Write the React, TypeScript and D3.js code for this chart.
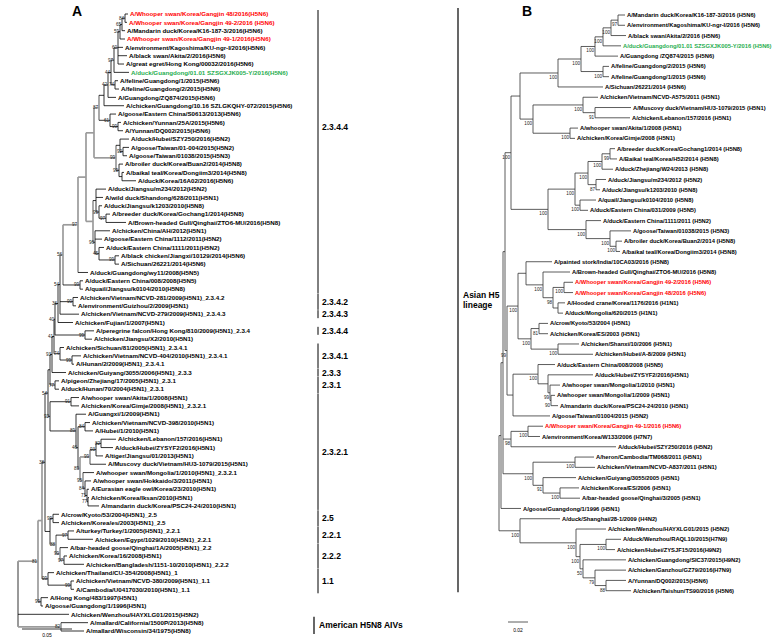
import React from "react";
import * as d3 from "d3";

// ---------- Panel A data ----------
const leavesA = [
  "A/Whooper swan/Korea/Gangjin 48/2016(H5N6)",
  "A/Whooper swan/Korea/Gangjin 49-2/2016 (H5N6)",
  "A/Mandarin duck/Korea/K16-187-3/2016(H5N6)",
  "A/Whooper swan/Korea/Gangjin 49-1/2016(H5N6)",
  "A/environment/Kagoshima/KU-ngr-I/2016(H5N6)",
  "A/black swan/Akita/2/2016(H5N6)",
  "A/great egret/Hong Kong/00032/2016(H5N6)",
  "A/duck/Guangdong/01.01 SZSGXJK005-Y/2016(H5N6)",
  "A/feline/Guangdong/1/2015(H5N6)",
  "A/feline/Guangdong/2/2015(H5N6)",
  "A/Guangdong/ZQ874/2015(H5N6)",
  "A/chicken/Guangdong/10.16 SZLGKQHY-072/2015(H5N6)",
  "A/goose/Eastern China/S0613/2013(H5N6)",
  "A/chicken/Yunnan/25A/2015(H5N6)",
  "A/Yunnan/DQ002/2015(H5N6)",
  "A/duck/Hubei/SZY250/2016(H5N2)",
  "A/goose/Taiwan/01-004/2015(H5N2)",
  "A/goose/Taiwan/01038/2015(H5N3)",
  "A/broiler duck/Korea/Buan2/2014(H5N8)",
  "A/baikal teal/Korea/Dongiim3/2014(H5N8)",
  "A/duck/Korea/16A02/2016(H5N6)",
  "A/duck/Jiangsu/m234/2012(H5N2)",
  "A/wild duck/Shandong/628/2011(H5N1)",
  "A/duck/Jiangsu/k1203/2010(H5N8)",
  "A/breeder duck/Korea/Gochang1/2014(H5N8)",
  "A/Brown-headed Gull/Qinghai/ZTO6-MU/2016(H5N8)",
  "A/chicken/China/AH/2012(H5N1)",
  "A/goose/Eastern China/1112/2011(H5N2)",
  "A/duck/Eastern China/1111/2011(H5N2)",
  "A/black chicken/Jiangxi/10129/2014(H5N6)",
  "A/Sichuan/26221/2014(H5N6)",
  "A/duck/Guangdong/wy11/2008(H5N5)",
  "A/duck/Eastern China/008/2008(H5N5)",
  "A/quail/Jiangsu/k0104/2010(H5N8)",
  "A/chicken/Vietnam/NCVD-281/2009(H5N1)_2.3.4.2",
  "A/environment/Guizhou/2/2009(H5N1)",
  "A/chicken/Vietnam/NCVD-279/2009(H5N1)_2.3.4.3",
  "A/chicken/Fujian/1/2007(H5N1)",
  "A/peregrine falcon/Hong Kong/810/2009(H5N1)_2.3.4",
  "A/chicken/Jiangsu/X2/2010(H5N1)",
  "A/chicken/Sichuan/81/2005(H5N1)_2.3.4.1",
  "A/chicken/Vietnam/NCVD-404/2010(H5N1)_2.3.4.1",
  "A/Hunan/2/2009(H5N1)_2.3.4.1",
  "A/chicken/Guiyang/3055/2006(H5N1)_2.3.3",
  "A/pigeon/Zhejiang/17/2005(H5N1)_2.3.1",
  "A/duck/Hunan/70/2004(H5N1)_2.3.1",
  "A/whooper swan/Akita/1/2008(H5N1)",
  "A/chicken/Korea/Gimje/2008(H5N1)_2.3.2.1",
  "A/Guangxi/1/2009(H5N1)",
  "A/chicken/Vietnam/NCVD-398/2010(H5N1)",
  "A/Hubei/1/2010(H5N1)",
  "A/chicken/Lebanon/157/2016(H5N1)",
  "A/duck/Hubei/ZYSYF2/2016(H5N1)",
  "A/tiger/Jiangsu/01/2013(H5N1)",
  "A/Muscovy duck/Vietnam/HU3-1079/2015(H5N1)",
  "A/whooper swan/Mongolia/1/2010(H5N1)_2.3.2.1",
  "A/whooper swan/Hokkaido/3/2011(H5N1)",
  "A/Eurasian eagle owl/Korea/23/2010(H5N1)",
  "A/chicken/Korea/Iksan/2010(H5N1)",
  "A/mandarin duck/Korea/PSC24-24/2010(H5N1)",
  "A/crow/Kyoto/53/2004(H5N1)_2.5",
  "A/chicken/Korea/es/2003(H5N1)_2.5",
  "A/turkey/Turkey/1/2005(H5N1)_2.2.1",
  "A/chicken/Egypt/1029/2010(H5N1)_2.2.1",
  "A/bar-headed goose/Qinghai/1A/2005(H5N1)_2.2",
  "A/chicken/Korea/16/2008(H5N1)",
  "A/chicken/Bangladesh/1151-10/2010(H5N1)_2.2.2",
  "A/chicken/Thailand/CU-354/2008(H5N1)_1",
  "A/chicken/Vietnam/NCVD-380/2009(H5N1)_1.1",
  "A/Cambodia/U0417030/2010(H5N1)_1.1",
  "A/Hong Kong/483/1997(H5N1)",
  "A/goose/Guangdong/1/1996(H5N1)",
  "A/chicken/Wenzhou/HAYXLG01/2015(H5N2)",
  "A/mallard/California/1500P/2013(H5N8)",
  "A/mallard/Wisconsin/34/1975(H5N8)",
];
const redLeavesA = [0, 1, 3];
const greenLeavesA = [7];

// Newick topology, branch lengths in 0.001 substitutions/site
const subtreeA_T1 =
  "((((((((L0:3,L1:2)N84:3,L2:3)N65:2,L3:5)N59:2,L4:5,L5:9,L6:6)N60:4,L7:15)N97:3,(L8:3,L9:4)Fel:4)T1d:3,L10:8)T1c:4,L11:20)T1a:5,(L12:6,(L13:3,L14:5)Yun:8)T1b:11)T1:5";
const subtreeA_T2 =
  "((L15:9,(L16:6,L17:4)T2b:3)T2a:4,(L18:4,(L19:2,L20:14)T2d:3)T2c:3)T2:22";
const subtreeA_Mid =
  "((L21:10,L22:7,(L23:3,(L24:4,L25:20)G:7)K:3)MA:3,(L26:15,L27:7,(L28:5,(L29:4,L30:4)EC4:16)EC2:4)EC:2)Mid:7";
const subtreeA_2344 = `(((((${subtreeA_T1},${subtreeA_T2})T:8,${subtreeA_Mid})C2344c:8,L31:10)C2344b:15,(L32:3,L33:3)ECq:17)C2344:3`;
const subtreeA_234 = `((((${subtreeA_2344},(L34:5,L35:3)C2342:13,L36:19)C234c:2,L37:15)C234b:3,(L38:9,L39:7)Per:30)C234a:1,(L40:4,(L41:9,L42:2)C2341b:12)C2341:6)C234main:2`;
const subtreeA_23 = `((${subtreeA_234},L43:14)C234plus:2,(L44:4,L45:4)C231:5)C23:2`;
const subtreeA_2321 =
  "((L46:8,L47:8)AkG:21,(L48:10,((L49:5,L50:8)P398:7,((((L51:15,L52:12)LZ:5,L53:7)C232f:6,L54:16)C232e:10,(L55:11,(L56:6,(L57:2,(L58:1,L59:11)H3:1)H2:2)H1:2)C232g:3)C232d:2)C232c:2)C232b:26)C232:2";
const subtreeA_22 =
  "((L60:6,L61:6)C25:3,((L62:6,L63:25)C221:12,(L64:8,(L65:3,L66:20)C222:4)C22x:4)C22:6)C2522:5";
const newickA = `((((((${subtreeA_23},${subtreeA_2321})M3:3,${subtreeA_22})M2:3,(L67:6,(L68:3,L69:3)C11:23)C1:6)M1:4,(L70:7,L71:2)GsGD:3)AS:20,L72:51,(L73:27,L74:23)AM:43)R;`;

const bootstrapA: [string, number][] = [
  ["N84", 84], ["N65", 65], ["N59", 59], ["N60", 60], ["N97", 97], ["T1d", 44], ["Fel", 74],
  ["T1c", 42], ["T1b", 61], ["Yun", 99], ["T1", 87], ["T2", 99], ["T2b", 92], ["T2c", 99],
  ["K", 99], ["G", 97], ["EC", 96], ["EC2", 45], ["EC4", 99], ["C2344b", 97], ["ECq", 99],
  ["C2344", 56], ["C2342", 99], ["C234c", 54], ["C234b", 36], ["C234a", 40], ["Per", 99],
  ["C234main", 41], ["C2341", 74], ["C2341b", 99], ["C234plus", 93], ["C231", 77],
  ["C232", 92], ["AkG", 91], ["C232b", 89], ["C232c", 46], ["P398", 84], ["C232d", 89],
  ["C232e", 99], ["C232f", 93], ["LZ", 82], ["C232g", 95], ["H1", 84], ["H2", 71], ["H3", 77],
  ["M3", 54], ["M2", 38], ["C25", 99], ["C22", 88], ["C221", 97], ["C22x", 99], ["C222", 97],
  ["C1", 99], ["C11", 99], ["AS", 81], ["GsGD", 99], ["AM", 82],
];
const grayNodesA = ["AS", "AM", "M1", "C2344", "C2344b", "C2344c", "T", "T1", "T2", "Mid", "C232d", "C232e", "C232g", "C22", "C22x"];

const cladesA: { label: string; first: number; last: number; labelAt?: number }[] = [
  { label: "2.3.4.4", first: 0, last: 33, labelAt: 13.5 },
  { label: "2.3.4.2", first: 34, last: 35 },
  { label: "2.3.4.3", first: 36, last: 36 },
  { label: "2.3.4.4", first: 38, last: 38 },
  { label: "2.3.4.1", first: 40, last: 42 },
  { label: "2.3.3", first: 43, last: 43 },
  { label: "2.3.1", first: 44, last: 45 },
  { label: "2.3.2.1", first: 46, last: 59 },
  { label: "2.5", first: 60, last: 61 },
  { label: "2.2.1", first: 62, last: 63 },
  { label: "2.2.2", first: 64, last: 66 },
  { label: "1.1", first: 67, last: 69 },
];
const lineagesA: { label: string[]; first: number; last: number }[] = [
  { label: ["Asian H5", "lineage"], first: 0, last: 69 },
  { label: ["American H5N8 AIVs"], first: 73, last: 74 },
];

// ---------- Panel B data ----------
const leavesB = [
  "A/Mandarin duck/Korea/K16-187-3/2016 (H5N6)",
  "A/environment/Kagoshima/KU-ngr-I/2016 (H5N6)",
  "A/black swan/Akita/2/2016 (H5N6)",
  "A/duck/Guangdong/01.01 SZSGXJK005-Y/2016 (H5N6)",
  "A/Guangdong /ZQ874/2015 (H5N6)",
  "A/feline/Guangdong/2/2015 (H5N6)",
  "A/feline/Guangdong/1/2015 (H5N6)",
  "A/Sichuan/26221/2014 (H5N6)",
  "A/chicken/Vietnam/NCVD-A575/2011 (H5N1)",
  "A/Muscovy duck/Vietnam/HU3-1079/2015 (H5N1)",
  "A/chicken/Lebanon/157/2016 (H5N1)",
  "A/whooper swan/Akita/1/2008 (H5N1)",
  "A/chicken/Korea/Gimje/2008 (H5N1)",
  "A/breeder duck/Korea/Gochang1/2014 (H5N8)",
  "A/Baikal teal/Korea/H52/2014 (H5N8)",
  "A/duck/Zhejiang/W24/2013 (H5N8)",
  "A/duck/Jiangsu/m234/2012 (H5N2)",
  "A/duck/Jiangsu/k1203/2010 (H5N8)",
  "A/quail/Jiangsu/k0104/2010 (H5N8)",
  "A/duck/Eastern China/031/2009 (H5N5)",
  "A/duck/Eastern China/1111/2011 (H5N2)",
  "A/goose/Taiwan/01038/2015 (H5N3)",
  "A/broiler duck/Korea/Buan2/2014 (H5N8)",
  "A/baikal teal/Korea/Dongiim3/2014 (H5N8)",
  "A/painted stork/India/10CA03/2016 (H5N8)",
  "A/Brown-headed Gull/Qinghai/ZTO6-MU/2016 (H5N8)",
  "A/Whooper swan/Korea/Gangjin 49-2/2016 (H5N6)",
  "A/Whooper swan/Korea/Gangjin 48/2016 (H5N6)",
  "A/Hooded crane/Korea/1176/2016 (H1N1)",
  "A/duck/Mongolia/620/2015 (H1N1)",
  "A/crow/Kyoto/53/2004 (H5N1)",
  "A/chicken/Korea/ES/2003 (H5N1)",
  "A/chicken/Shanxi/10/2006 (H5N1)",
  "A/chicken/Hubei/A-8/2009 (H5N1)",
  "A/duck/Eastern China/008/2008 (H5N5)",
  "A/duck/Hubei/ZYSYF2/2016(H5N1)",
  "A/whooper swan/Mongolia/1/2010 (H5N1)",
  "A/whooper swan/Mongolia/1/2009 (H5N1)",
  "A/mandarin duck/Korea/PSC24-24/2010 (H5N1)",
  "A/goose/Taiwan/01004/2015 (H5N2)",
  "A/Whooper swan/Korea/Gangjin 49-1/2016 (H5N6)",
  "A/environment/Korea/W133/2006 (H7N7)",
  "A/duck/Hubei/SZY250/2016 (H5N2)",
  "A/heron/Cambodia/TM068/2011 (H5N1)",
  "A/chicken/Vietnam/NCVD-A837/2011 (H5N1)",
  "A/chicken/Guiyang/3055/2005 (H5N1)",
  "A/chicken/Korea/ES/2006 (H5N1)",
  "A/bar-headed goose/Qinghai/3/2005 (H5N1)",
  "A/goose/Guangdong/1/1996 (H5N1)",
  "A/duck/Shanghai/28-1/2009 (H4N2)",
  "A/chicken/Wenzhou/HAYXLG01/2015 (H5N2)",
  "A/duck/Wenzhou/RAQL10/2015(H7N9)",
  "A/chicken/Hubei/ZYSJF15/2016(H9N2)",
  "A/chicken/Guangdong/SIC37/2015(H9N2)",
  "A/chicken/Ganzhou/GZ79/2016(H7N9)",
  "A/Yunnan/DQ002/2015(H5N6)",
  "A/chicken/Taishun/TS90/2016 (H5N6)",
];
const redLeavesB = [26, 27, 40];
const greenLeavesB = [3];

const subtreeB_I6 =
  "((((((L0:7,L1:7)I6e:7,L2:15)I6d:8,L3:18)I6c:8,L4:23)I6b:14,(L5:6,L6:6)Fel:22)I6a:23,L7:45)I6:38";
const subtreeB_I7 = "((L8:15,(L9:36,L10:35)I7b:12)I7a:50,(L11:8,L12:5)I7c:37)I7:13";
const subtreeB_I4b =
  "(((((L13:5,L14:7)I11:8,L15:11)I10:14,(L16:10,L17:4)I12:8)I9:13,(L18:16,L19:8)I13:5)I8:27,(L20:15,(L21:21,(L22:6,L23:4)I16:6)I15:24)I14:38)I4b:37";
const subtreeB_I5a =
  "((L24:26,(L25:27,((L26:9,L27:9)I5e:11,(L28:7,L29:5)I5f:5)I5d:10)I5c:17)I5b:8,((L30:9,L31:9)I5h:8,(L32:21,L33:35)I5i:27)I5g:13)I5a:11";
const subtreeB_I5j = "((L34:17,(L35:45,(L36:10,(L37:4,L38:7)I5n:1)I5m:2)I5l:10)I5k:25,L39:37)I5j:6";
const subtreeB_I2b = "((L40:15,L41:12)I2d:17,L42:105)I2b:8";
const subtreeB_I3 = "((L43:19,L44:20)I3a:42,(L45:33,(L46:19,L47:20)I3c:17)I3b:10)I3:30";
const subtreeB_O1 =
  "(L49:40,(L50:30,((L51:15,L52:9)O4:26,(L53:43,(L54:31,(L55:20,L56:25)O7:11)O6:12)O5:3)O3:4)O2:56)O1:21";
const newickB = `((((((${subtreeB_I6},${subtreeB_I7})I4a:9,${subtreeB_I4b})I4:6,(${subtreeB_I5a},${subtreeB_I5j})I2c:2)I2:2,${subtreeB_I2b},${subtreeB_I3})I1:2,L48:20)I0:2,${subtreeB_O1})R;`;

const bootstrapB: [string, number][] = [
  ["I6e", 97], ["I6d", 100], ["I6c", 100], ["I6b", 100], ["I6a", 100], ["Fel", 100], ["I6", 100],
  ["I7", 100], ["I7a", 100], ["I7b", 91], ["I7c", 100], ["I4", 100], ["I4b", 100], ["I8", 100],
  ["I9", 100], ["I10", 100], ["I11", 99], ["I12", 87], ["I13", 100], ["I14", 100], ["I15", 100],
  ["I16", 100], ["I5a", 100], ["I5c", 100], ["I5d", 98], ["I5e", 100], ["I5h", 81], ["I5g", 100],
  ["I5i", 100], ["I2c", 99], ["I5k", 100], ["I5m", 99], ["I5n", 90], ["I2b", 98], ["I2d", 100],
  ["I3", 100], ["I3a", 100], ["I3b", 91], ["I3c", 100], ["O1", 100], ["O2", 100], ["O3", 100],
  ["O4", 100], ["O5", 50], ["O6", 79], ["O7", 88],
];

const UNIT = 0.001; // branch length unit (substitutions/site)

// ---------- helpers ----------
type TNode = { name: string; length: number; children: TNode[] };

function parseNewick(src: string): TNode {
  const s = src.replace(/\s+/g, "");
  let i = 0;
  function node(): TNode {
    const n: TNode = { name: "", length: 0, children: [] };
    if (s[i] === "(") {
      i++;
      n.children.push(node());
      while (s[i] === ",") {
        i++;
        n.children.push(node());
      }
      i++;
    }
    let name = "";
    while (i < s.length && !",():;".includes(s[i])) name += s[i++];
    n.name = name;
    if (s[i] === ":") {
      i++;
      let num = "";
      while (i < s.length && !",();".includes(s[i])) num += s[i++];
      n.length = parseFloat(num) * UNIT;
    }
    return n;
  }
  return node();
}

type Laid = { name: string; x: number; y: number; px: number | null; kids: Laid[]; leaf: number | null };

function layoutTree(newick: string, nLeaves: number, yTop: number, yBottom: number, x0: number, pxPer005: number) {
  const root = d3.hierarchy(parseNewick(newick), (d) => (d.children.length ? d.children : null));
  const yS = d3.scaleLinear().domain([0, nLeaves - 1]).range([yTop, yBottom]);
  const xS = d3.scaleLinear().domain([0, 0.05]).range([x0, x0 + pxPer005]);
  const dist = new Map<any, number>();
  root.each((n) => dist.set(n, (n.parent ? dist.get(n.parent)! : 0) + (n.parent ? n.data.length : 0)));
  const ys = new Map<any, number>();
  root.eachAfter((n) => {
    if (!n.children) ys.set(n, yS(+n.data.name.slice(1)));
    else ys.set(n, (ys.get(n.children[0])! + ys.get(n.children[n.children.length - 1])!) / 2);
  });
  const byNode = new Map<any, Laid>();
  const nodes: Laid[] = [];
  root.each((n) => {
    const l: Laid = {
      name: n.data.name,
      x: xS(dist.get(n)!),
      y: ys.get(n)!,
      px: n.parent ? xS(dist.get(n.parent)!) : null,
      kids: [],
      leaf: n.children ? null : +n.data.name.slice(1),
    };
    byNode.set(n, l);
    nodes.push(l);
  });
  root.each((n) => {
    if (n.children) byNode.get(n)!.kids = n.children.map((c) => byNode.get(c)!);
  });
  return { nodes, yS, xS };
}

const FONT = "'Liberation Sans', Arial, Helvetica, sans-serif";

function Tree(props: {
  newick: string;
  leaves: string[];
  red: number[];
  green: number[];
  boot: [string, number][];
  gray: string[];
  yTop: number;
  yBottom: number;
  x0: number;
  px005: number;
  leafFont: number;
  bootDy: number;
  stroke: string;
}) {
  const { nodes } = layoutTree(props.newick, props.leaves.length, props.yTop, props.yBottom, props.x0, props.px005);
  const bootMap = new Map(props.boot);
  const graySet = new Set(props.gray);
  const els: React.ReactNode[] = [];
  nodes.forEach((n, i) => {
    const isGray = graySet.has(n.name);
    const st = isGray ? "#9b9b9b" : props.stroke;
    const sw = isGray ? 1.7 : 0.8;
    if (n.px !== null) {
      els.push(<line key={"h" + i} x1={n.px} x2={n.x} y1={n.y} y2={n.y} stroke={st} strokeWidth={sw} />);
    }
    if (n.kids.length) {
      els.push(
        <line key={"v" + i} x1={n.x} x2={n.x} y1={n.kids[0].y} y2={n.kids[n.kids.length - 1].y} stroke={st} strokeWidth={sw} />
      );
      const b = bootMap.get(n.name);
      if (b !== undefined) {
        els.push(
          <text key={"b" + i} x={n.x - 1} y={n.y + props.bootDy} fontSize={4.6} textAnchor="end" fill="#222">
            {b}
          </text>
        );
      }
    } else if (n.leaf !== null) {
      const col = props.red.includes(n.leaf) ? "#ff0000" : props.green.includes(n.leaf) ? "#27ae4f" : "#000";
      els.push(
        <text key={"t" + i} x={n.x + 2} y={n.y + props.leafFont * 0.36} fontSize={props.leafFont} fontWeight="bold" fill={col}>
          {props.leaves[n.leaf]}
        </text>
      );
    }
  });
  return <g fontFamily={FONT}>{els}</g>;
}

export default function App() {
  const yA = d3.scaleLinear().domain([0, leavesA.length - 1]).range([14, 631]);
  return (
    <svg width={779} height={638} style={{ position: "absolute", left: 0, top: 0, background: "#fff" }} fontFamily={FONT}>
      <rect x={0} y={0} width={779} height={638} fill="#fff" />
      {/* Panel A */}
      <text x={72} y={16} fontSize={14} fontWeight="bold">A</text>
      <Tree
        newick={newickA}
        leaves={leavesA}
        red={redLeavesA}
        green={greenLeavesA}
        boot={bootstrapA}
        gray={grayNodesA}
        yTop={14}
        yBottom={631}
        x0={18}
        px005={50}
        leafFont={6.2}
        bootDy={1.5}
        stroke="#000"
      />
      {cladesA.map((c, i) => {
        const y1 = yA(c.first) - 4;
        const y2 = yA(c.last) + 4;
        const ly = c.labelAt !== undefined ? yA(c.labelAt) : (y1 + y2) / 2;
        return (
          <g key={"c" + i}>
            <line x1={318} x2={318} y1={y1} y2={y2} stroke="#000" strokeWidth={1} />
            <text x={322} y={ly + 3} fontSize={8.5} fontWeight="bold">{c.label}</text>
          </g>
        );
      })}
      {lineagesA.map((c, i) => {
        const y1 = yA(c.first) - 6;
        const y2 = yA(c.last) + 3;
        const bx = i === 0 ? 458 : 314;
        return (
          <g key={"l" + i}>
            <line x1={bx} x2={bx} y1={y1} y2={y2} stroke="#000" strokeWidth={1.2} />
            {c.label.map((t, j) => (
              <text key={j} x={bx + 5} y={(y1 + y2) / 2 + 3 + (j - (c.label.length - 1) / 2) * 10} fontSize={8.5} fontWeight="bold">
                {t}
              </text>
            ))}
          </g>
        );
      })}
      {/* scale bar A */}
      <line x1={22} x2={72} y1={629} y2={629} stroke="#000" strokeWidth={0.8} />
      <text x={47} y={637} fontSize={5} textAnchor="middle">0.05</text>

      {/* Panel B */}
      <text x={522} y={16} fontSize={14} fontWeight="bold">B</text>
      <Tree
        newick={newickB}
        leaves={leavesB}
        red={redLeavesB}
        green={greenLeavesB}
        boot={bootstrapB}
        gray={[]}
        yTop={15}
        yBottom={590.7}
        x0={499}
        px005={50}
        leafFont={5.8}
        bootDy={6}
        stroke="#333"
      />
      <line x1={508} x2={528} y1={622} y2={622} stroke="#333" strokeWidth={0.8} />
      <text x={518} y={632} fontSize={5} textAnchor="middle">0.02</text>
    </svg>
  );
}
